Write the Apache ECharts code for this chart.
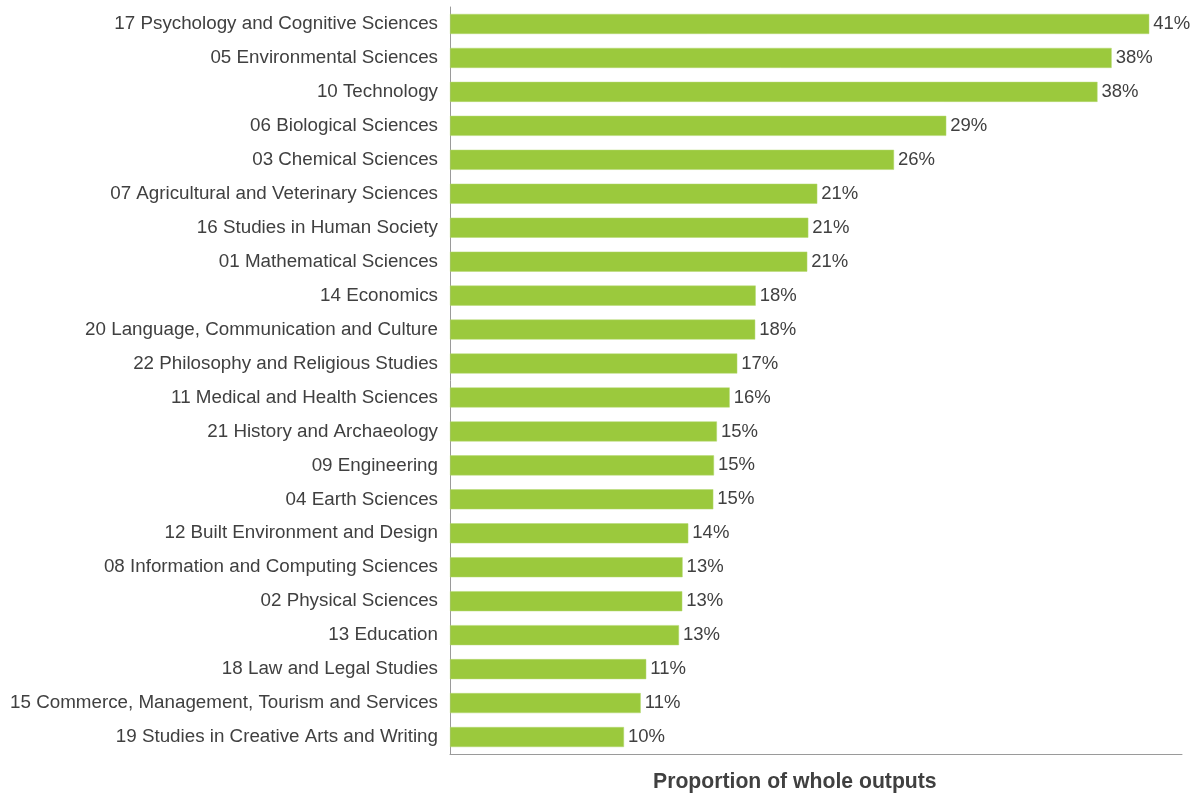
<!DOCTYPE html>
<html>
<head>
<meta charset="utf-8">
<script src="https://cdn.jsdelivr.net/npm/echarts@6/dist/echarts.min.js"></script>
<style>
  html, body { margin: 0; padding: 0; background: #ffffff; }
  #chart { width: 1198px; height: 793px; }
</style>
</head>
<body>
<div id="chart"></div>
<script>
// Fields of research, top to bottom
const categories = [
  '17 Psychology and Cognitive Sciences',
  '05 Environmental Sciences',
  '10 Technology',
  '06 Biological Sciences',
  '03 Chemical Sciences',
  '07 Agricultural and Veterinary Sciences',
  '16 Studies in Human Society',
  '01 Mathematical Sciences',
  '14 Economics',
  '20 Language, Communication and Culture',
  '22 Philosophy and Religious Studies',
  '11 Medical and Health Sciences',
  '21 History and Archaeology',
  '09 Engineering',
  '04 Earth Sciences',
  '12 Built Environment and Design',
  '08 Information and Computing Sciences',
  '02 Physical Sciences',
  '13 Education',
  '18 Law and Legal Studies',
  '15 Commerce, Management, Tourism and Services',
  '19 Studies in Creative Arts and Writing'
];

// Proportion of whole outputs (%)
const proportions = [
  40.55, 38.37, 37.55, 28.78, 25.75, 21.30, 20.78, 20.72,
  17.73, 17.70, 16.66, 16.22, 15.48, 15.31, 15.27, 13.82,
  13.49, 13.47, 13.28, 11.38, 11.06, 10.09
];

const axisTitle = 'Proportion of whole outputs';

const FONT = 'Liberation Sans, Arial, sans-serif';

const chart = echarts.init(document.getElementById('chart'), null, { renderer: 'canvas' });

chart.setOption({
  animation: false,
  textStyle: { fontFamily: FONT },
  title: {
    text: axisTitle,
    left: 653,
    top: 772,
    padding: 0,
    textStyle: {
      fontFamily: FONT,
      fontSize: 21.2,
      fontWeight: 'bold',
      color: '#404040'
    }
  },
  grid: {
    left: 450,
    right: 16,
    top: 7,
    bottom: 39,
    containLabel: false
  },
  xAxis: {
    type: 'value',
    min: 0,
    max: 42.45,
    axisLine: { show: true, lineStyle: { color: '#9a9a9a', width: 1 } },
    axisTick: { show: false },
    axisLabel: { show: false },
    splitLine: { show: false }
  },
  yAxis: {
    type: 'category',
    inverse: true,
    data: categories,
    axisLine: { show: true, lineStyle: { color: '#9a9a9a', width: 1 } },
    axisTick: { show: false },
    axisLabel: {
      margin: 12,
      fontSize: 18.8,
      color: '#404040',
      fontFamily: FONT,
      padding: [5, 0, 0, 0]
    }
  },
  series: [{
    type: 'bar',
    data: proportions,
    barCategoryGap: '41%',
    itemStyle: { color: '#9bc93d', borderColor: '#b4d872', borderWidth: 0.5 },
    label: {
      show: true,
      position: 'right',
      distance: 4,
      fontSize: 18.5,
      color: '#404040',
      fontFamily: FONT,
      padding: [5, 0, 0, 0],
      formatter: p => Math.round(p.value) + '%'
    }
  }]
});
</script>
</body>
</html>
